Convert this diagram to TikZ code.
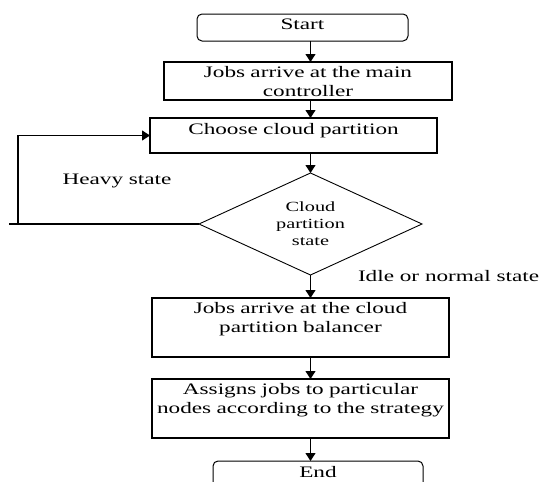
\documentclass[tikz,border=0pt]{standalone}
\usepackage{fontspec}
\setmainfont{Liberation Serif}[FakeStretch=1.45]
\usetikzlibrary{positioning}
\usetikzlibrary{arrows.meta}
\usetikzlibrary{shapes.geometric}

\begin{document}
\begin{tikzpicture}
			[x=1pt,y=1pt,
			 every node/.style={font=\fontsize{16}{19}\selectfont,outer sep=0pt},
			 box/.style={rectangle,draw,line width=1.6pt,inner sep=0pt,
			   text width=#1,align=center,text height=15pt},
			 box/.default=288pt,
			 term/.style={rectangle,draw,rounded corners=5pt,line width=1pt,
			   inner sep=0pt,minimum width=211pt,text height=15pt,text depth=12pt},
			 decide/.style={diamond,draw,line width=0.9pt,aspect=2.19,inner sep=0pt,
			   minimum width=223pt,minimum height=102pt,align=center,
			   font=\fontsize{14}{17}\selectfont},
			 connect/.style={line width=1.2pt},
			 arr/.style={connect,-{Triangle[length=8pt,width=10pt]}},
			 note/.style={inner sep=0pt}]
			\useasboundingbox (0,0) rectangle (542,-482);
			\clip (0,0) rectangle (542,-482);

			\node (start) [term] at (302.5,-27.5) {Start};
			\node (ctrl) [box, text depth=23pt, below=21pt of start, xshift=5.5pt]
			  {Jobs arrive at the main\\controller};
			\node (choose) [box=287pt, text height=16pt, text depth=19pt,
			  below=18pt of ctrl, xshift=-14.5pt] {Choose cloud partition};
			\node (state) [decide, below=20pt of choose, xshift=17pt]
			  {Cloud\\partition\\state};
			\node (arrive) [box=297pt, text depth=44pt, below=23pt of state, xshift=-10pt]
			  {Jobs arrive at the cloud\\partition balancer};
			\node (assign) [box=297pt, text depth=44pt, below=22pt of arrive]
			  {Assigns jobs to particular\\nodes according to the strategy};
			\node (finish) [term, minimum width=210pt, text height=16pt, text depth=15pt,
			  below=23pt of assign, xshift=17.5pt] {End};

			\draw [arr] (start.south -| state.north) -- (ctrl.north -| state.north);
			\draw [arr] (ctrl.south -| state.north) -- (choose.north -| state.north);
			\draw [arr] (choose.south -| state.north) -- (state.north);
			\draw [arr] (state.south) -- (arrive.north -| state.south);
			\draw [arr] (arrive.south -| state.south) -- (assign.north -| state.south);
			\draw [arr] (assign.south -| state.south) -- (finish.north -| state.south);

			% heavy state goes back
			\coordinate (bend) at (18,0);
			\coordinate (stub) at (9,0);
			\draw [connect] (state.west) -- (state.west -| stub);
			\draw [arr] (state.west -| bend) |- (choose.west);

			\node (heavy) [note] at (117,-181) {Heavy state};
			\node (idle) [note, anchor=west] at (358,-276) {Idle or normal state};
	  \end{tikzpicture}
\end{document}
